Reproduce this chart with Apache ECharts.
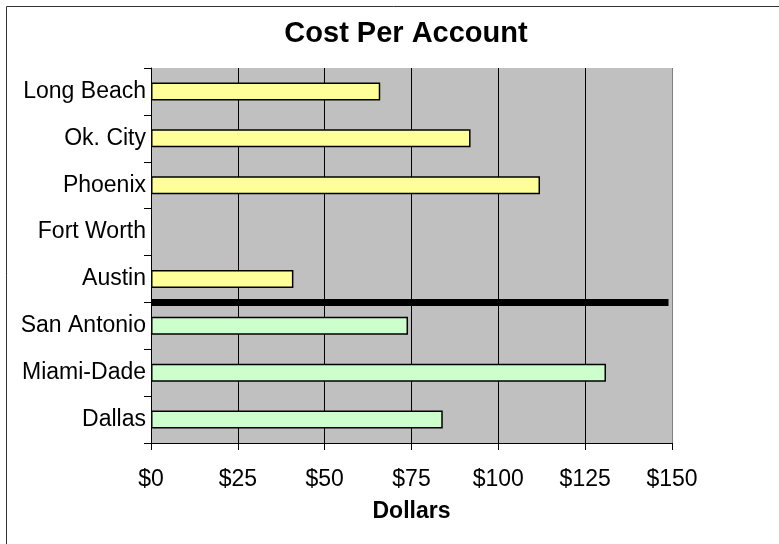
<!DOCTYPE html>
<html>
<head>
<meta charset="utf-8">
<script src="https://cdn.jsdelivr.net/npm/echarts@6/dist/echarts.min.js"></script>
<style>html,body{margin:0;padding:0;background:#fff}#c{width:779px;height:544px}</style>
</head>
<body>
<div id="c"></div>
<script>
// Categories listed bottom to top
const categories = ['Dallas', 'Miami-Dade', 'San Antonio', 'Austin', 'Fort Worth', 'Phoenix', 'Ok. City', 'Long Beach'];
const greenValues = [84, 131, 74, null, null, null, null, null];
const yellowValues = [null, null, null, 41, null, 112, 92, 66];
const xTicks = [0, 25, 50, 75, 100, 125, 150];
const dividerAt = 3;      // number of categories below the divider
const dividerEnd = 149;   // divider length in dollars

const FONT = "'Liberation Sans', Arial, sans-serif";
const chart = echarts.init(document.getElementById('c'), null, {renderer: 'canvas'});
chart.setOption({
  animation: false,
  backgroundColor: '#fff',
  title: {
    text: 'Cost Per Account',
    left: 401, top: 14, textAlign: 'center',
    textStyle: {fontFamily: FONT, fontSize: 29, fontWeight: 'bold', color: '#000'}
  },
  graphic: [{
    type: 'rect', silent: true, z: -1,
    shape: {x: 6.5, y: 6.5, width: 900, height: 700},
    style: {fill: 'none', stroke: '#333', lineWidth: 1}
  }],
  grid: {left: 151, top: 68, width: 521, height: 375, show: true, backgroundColor: '#C0C0C0', borderWidth: 0},
  xAxis: {
    type: 'value', min: xTicks[0], max: xTicks[xTicks.length - 1], interval: 25,
    name: 'Dollars', nameLocation: 'middle', nameGap: 57,
    nameTextStyle: {fontFamily: FONT, fontSize: 23, fontWeight: 'bold', color: '#000'},
    axisLine: {show: true, lineStyle: {color: '#000', width: 1}},
    axisTick: {show: true, length: 7, lineStyle: {color: '#000'}},
    axisLabel: {fontFamily: FONT, fontSize: 23, color: '#000', margin: 25, formatter: v => '$' + v},
    splitLine: {show: true, lineStyle: {color: ['#000', '#000', '#000', '#000', '#000', '#000', '#808080'], width: 1}}
  },
  yAxis: [{
    type: 'category', data: categories,
    axisLine: {show: true, lineStyle: {color: '#000', width: 1}},
    axisTick: {show: true, length: 7, lineStyle: {color: '#000'}},
    axisLabel: {fontFamily: FONT, fontSize: 23, color: '#000', margin: 5},
    splitLine: {show: false}
  }, {
    type: 'value', min: 0, max: categories.length, show: false
  }],
  series: [{
    type: 'bar', stack: 'all', data: greenValues, barWidth: 18,
    itemStyle: {color: '#CCFFCC', borderColor: '#000', borderWidth: 1.5}
  }, {
    type: 'bar', stack: 'all', data: yellowValues, barWidth: 18,
    itemStyle: {color: '#FFFF99', borderColor: '#000', borderWidth: 1.5}
  }, {
    type: 'line', yAxisIndex: 1, symbol: 'none', z: 5,
    data: [[0, dividerAt], [dividerEnd, dividerAt]],
    lineStyle: {color: '#000', width: 7}
  }]
});
</script>
</body>
</html>
